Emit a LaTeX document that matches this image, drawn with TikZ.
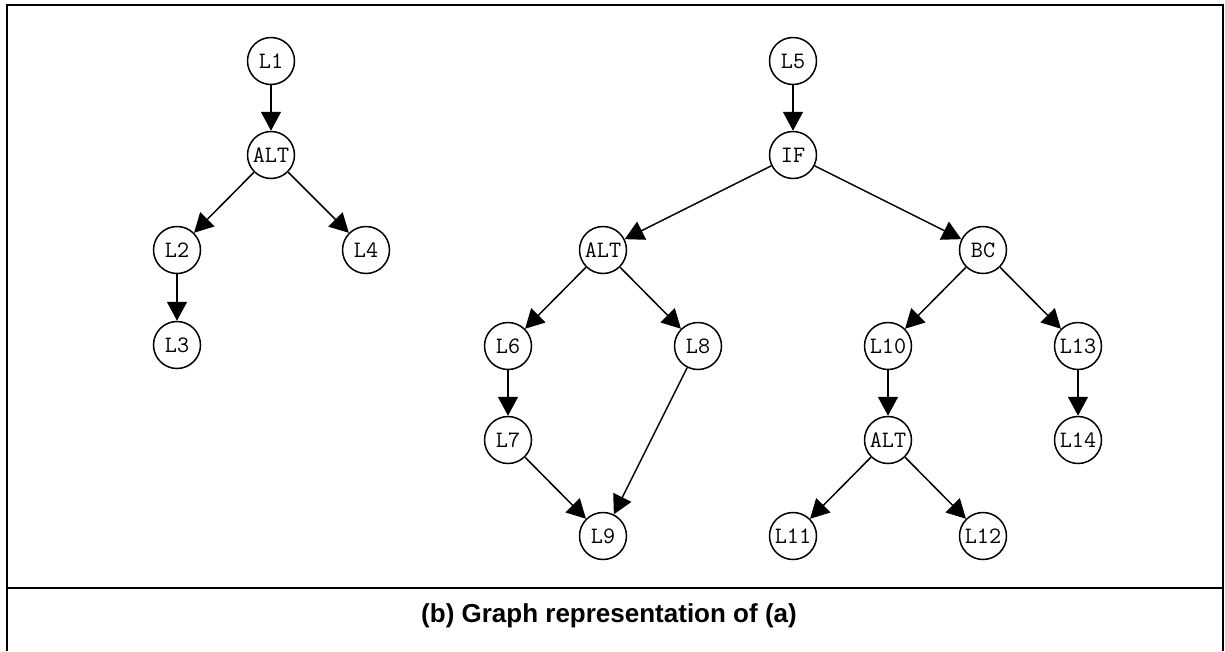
\documentclass[tikz,border=0pt]{standalone}
\usepackage{fontspec}
\setsansfont{Liberation Sans}
\usetikzlibrary{arrows.meta}

\begin{document}
\begin{tikzpicture}[x=1pt,y=-1pt,
    vertex/.style={circle,draw,line width=1.5pt,inner sep=0pt,minimum size=47pt,
        font=\ttfamily\fontsize{23.5}{24}\selectfont},
    edge/.style={line width=1.5pt,-{Triangle[length=19pt,width=20pt]}}]
    \useasboundingbox (0,0) rectangle (1225,651);

    % Frame
    \draw[line width=2.2pt] (7,651) -- (7,5) -- (1223,5) -- (1223,651);
    \draw[line width=2.2pt] (7,588) -- (1223,588);

    % Graph Nodes (left)
    \node[vertex] (l1) at (271,61) {L1};
    \node[vertex] (alta) at (271,155) {ALT};
    \node[vertex] (l2) at (177,250) {L2};
    \node[vertex] (l4) at (366,250) {L4};
    \node[vertex] (l3) at (177,345) {L3};

    % Graph Nodes (right)
    \node[vertex] (l5) at (793,61) {L5};
    \node[vertex] (if) at (793,155) {IF};
    \node[vertex] (altb) at (603,250) {ALT};
    \node[vertex] (bc) at (983,250) {BC};
    \node[vertex] (l6) at (508,346) {L6};
    \node[vertex] (l8) at (698,346) {L8};
    \node[vertex] (l7) at (508,440) {L7};
    \node[vertex] (l9) at (603,536) {L9};
    \node[vertex] (l10) at (888,346) {L10};
    \node[vertex] (l13) at (1078,346) {L13};
    \node[vertex] (altc) at (888,440) {ALT};
    \node[vertex] (l14) at (1078,440) {L14};
    \node[vertex] (l11) at (793,536) {L11};
    \node[vertex] (l12) at (983,536) {L12};

    % Edges
    \foreach \a/\b in {l1/alta,alta/l2,alta/l4,l2/l3,
        l5/if,if/altb,if/bc,altb/l6,altb/l8,l6/l7,l7/l9,l8/l9,
        bc/l10,bc/l13,l10/altc,l13/l14,altc/l11,altc/l12}
        \draw[edge] (\a) -- (\b);

    % Text
    \node[font=\sffamily\bfseries\fontsize{26}{30}\selectfont] (caption) at (609,616)
        {(b) Graph representation of (a)};
\end{tikzpicture}
\end{document}
